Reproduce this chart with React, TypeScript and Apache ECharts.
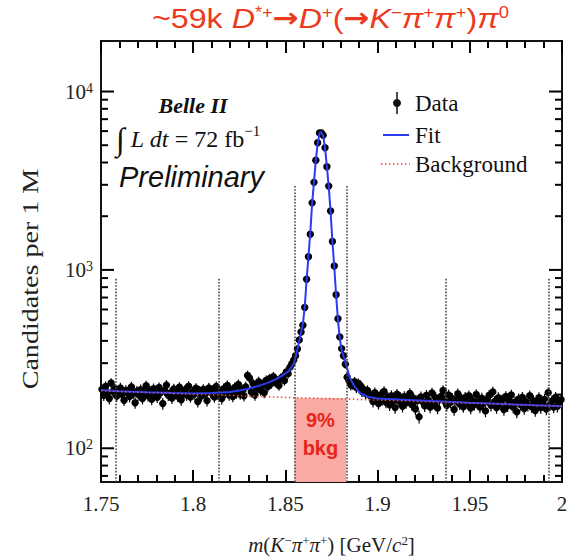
import React, { useEffect, useRef } from 'react';
import * as echarts from 'echarts';

// ---- axis ranges ----
const X_MIN = 1.75;
const X_MAX = 2.0;
const X_INTERVAL = 0.05;
const Y_MIN = 64.7;
const Y_MAX = 19200;

// ---- binning: 1 MeV bins from 1.750 to 2.000 GeV ----
const BIN_FIRST_CENTER = 1.7505;
const BIN_WIDTH = 0.001;

// ---- data: candidates per bin ----
const countsLeftSideband = [
  214, 198, 222, 205, 190, 232, 208, 215, 196, 203,
  218, 200, 186, 211, 207, 195, 221, 203, 180, 209,
  199, 213, 190, 205, 224, 197, 209, 188, 216, 202,
  193, 219, 206, 178, 211, 226, 198, 204, 191, 215,
  208, 196, 220, 187, 203, 212, 199, 223, 194, 206,
  201, 217, 183, 209, 197, 214, 203, 185, 218, 205,
  211, 194, 222, 200, 208, 190, 216, 206, 225, 199,
  210, 195, 219, 204, 228, 201, 213, 197, 221, 256,
  248, 207, 230, 199, 218, 236, 212, 227, 205, 240,
  222, 246, 231, 252, 235, 238, 225, 246, 252, 240,
];
const countsPeak = [
  268, 262, 285, 298, 312, 330, 360, 405, 449, 489,
  615, 887, 1185, 1585, 2376, 3097, 4120, 5160, 5860, 5860,
  5680, 4843, 3785, 2950, 2138, 1442, 1052, 726, 532, 421,
  362, 330, 296, 250, 238, 226, 228, 236, 219, 231,
  226, 208, 214, 203, 211, 199,
];
const countsRightSideband = [
  196, 183, 205, 190, 178, 199, 187, 208, 181, 193,
  175, 197, 186, 169, 201, 184, 192, 172, 195, 180,
  188, 203, 176, 191, 166, 185, 150, 194, 182, 173,
  198, 186, 170, 204, 179, 192, 168, 187, 196, 211,
  183, 174, 199, 181, 190, 165, 186, 202, 177, 189,
  171, 193, 180, 197, 168, 185, 176, 200, 182, 170,
  191, 179, 162, 188, 198, 174, 207, 183, 169, 192,
  178, 186, 165, 195, 173, 184, 199, 170, 181, 160,
  189, 176, 193, 167, 182, 174, 197, 171, 185, 163,
  180, 192, 169, 178, 188, 166, 205, 175, 184, 170,
  193, 172, 181, 187,
];

// ---- fit curve ----
const fitX = [
  1.75, 1.76, 1.775, 1.79, 1.8, 1.81, 1.82, 1.825, 1.83, 1.835, 1.84, 1.845, 1.849, 1.852,
  1.8545, 1.8555, 1.8565, 1.8575, 1.8585, 1.8595, 1.8605, 1.8615, 1.8625, 1.8635, 1.8645,
  1.8655, 1.8665, 1.8675, 1.8685, 1.869, 1.8695, 1.8705, 1.8715, 1.8725, 1.8735, 1.8745,
  1.8755, 1.8765, 1.8775, 1.8785, 1.8795, 1.8805, 1.8815, 1.8825, 1.8835, 1.885, 1.887,
  1.8905, 1.895, 1.9, 1.92, 1.95, 1.975, 2.0,
];
const fitY = [
  212, 209, 206, 204, 203, 204, 207, 211, 216, 223, 232, 244, 258, 272,
  298, 325, 358, 400, 445, 500, 620, 880, 1190, 1620, 2360,
  3120, 4130, 5120, 5830, 5930, 5880, 5650, 4820, 3800, 2930, 2120,
  1440, 1040, 720, 525, 412, 355, 328, 305, 280, 248, 226,
  204, 194, 190, 186, 180, 176, 172,
];

// ---- background component ----
const bkgX = [1.75, 1.855, 1.882, 2.0];
const bkgY = [210, 192, 189, 172];

// ---- signal window / sideband boundaries ----
const windowLinesX = [1.758, 1.814, 1.855, 1.883, 1.937, 1.993];
const windowLinesTop = [900, 900, 3000, 3000, 900, 900];
const signalWindow = [1.855, 1.883];
const signalWindowBkgLevel = 191;

// ---- y-axis ticks ----
const yMajorTicks = [100, 1000, 10000];
const yMinorTicks = [70, 80, 90, 200, 300, 400, 500, 600, 700, 800, 900,
  2000, 3000, 4000, 5000, 6000, 7000, 8000, 9000];

const SERIF = '"Liberation Serif", "Times New Roman", serif';
const SANS = '"Liberation Sans", Arial, Helvetica, sans-serif';
const TITLE_RED = '#ec3a1f';

export default function App() {
  const ref = useRef<HTMLDivElement>(null);

  useEffect(() => {
    if (!ref.current) return;
    const chart = echarts.init(ref.current, undefined, { renderer: 'svg' });

    const counts = [...countsLeftSideband, ...countsPeak, ...countsRightSideband];
    const dataPts = counts.map((c, i) => [BIN_FIRST_CENTER + i * BIN_WIDTH, c]);
    const fitPts = fitX.map((x, i) => [x, fitY[i]]);
    const bkgPts = bkgX.map((x, i) => [x, bkgY[i]]);
    const yTickData = [
      ...yMajorTicks.map((v) => [X_MAX, v, 1]),
      ...yMinorTicks.map((v) => [X_MAX, v, 0]),
    ];

    const xAxisCommon = {
      type: 'value',
      min: X_MIN,
      max: X_MAX,
      interval: X_INTERVAL,
      axisLine: { show: false },
      splitLine: { show: false },
      axisTick: { show: true, inside: true, length: 12, lineStyle: { color: '#000', width: 2 } },
      minorTick: { show: true, splitNumber: 5, length: 7, lineStyle: { color: '#000', width: 2 } },
      minorSplitLine: { show: false },
    };

    const option: any = {
      animation: false,
      grid: {
        left: 101,
        right: 15,
        top: 41,
        bottom: 75,
        show: true,
        borderColor: '#111',
        borderWidth: 2,
      },
      xAxis: [
        {
          ...xAxisCommon,
          position: 'bottom',
          axisLabel: {
            show: true,
            margin: 11,
            fontFamily: SERIF,
            fontSize: 21,
            color: '#222',
          },
          name: '{i|m}({i|K}{s|−}{i|π}{s|+}{i|π}{s|+}) [GeV/{i|c}{s|2}]',
          nameLocation: 'middle',
          nameGap: 52,
          nameTextStyle: {
            fontFamily: SERIF,
            fontSize: 21,
            color: '#222',
            rich: {
              i: { fontFamily: SERIF, fontSize: 21, fontStyle: 'italic', color: '#222' },
              s: { fontFamily: SERIF, fontSize: 13, color: '#222', verticalAlign: 'top' },
            },
          },
        },
        {
          ...xAxisCommon,
          position: 'top',
          axisLabel: { show: false },
        },
      ],
      yAxis: {
        type: 'log',
        logBase: 10,
        min: Y_MIN,
        max: Y_MAX,
        axisLine: { show: false },
        axisTick: { show: false },
        minorTick: { show: false },
        splitLine: { show: false },
        axisLabel: {
          show: true,
          showMinLabel: false,
          showMaxLabel: false,
          margin: 8,
          fontFamily: SERIF,
          fontSize: 21,
          color: '#222',
          formatter: (v: number) => {
            const e = Math.log10(v);
            if (Math.abs(e - Math.round(e)) > 1e-6) return '';
            return `{b|10}{s|${Math.round(e)}}`;
          },
          rich: {
            b: { fontFamily: SERIF, fontSize: 21, color: '#222' },
            s: { fontFamily: SERIF, fontSize: 14, color: '#222', verticalAlign: 'top' },
          },
        },
      },
      graphic: [
        {
          type: 'text',
          x: 152,
          y: 18,
          scaleX: 1.15,
          style: {
            text:
              '{n|~59k }{i|D}{s|*+}{a|→}{i|D}{s|+}{n|(}{a|→}{i|K}{s|−}{i|π}{s|+}{i|π}{s|+}{n|)}{i|π}{s|0}',
            font: `28px ${SANS}`,
            fill: TITLE_RED,
            align: 'left',
            verticalAlign: 'middle',
            rich: {
              n: { fill: TITLE_RED, fontFamily: SANS, fontSize: 28 },
              i: { fill: TITLE_RED, fontFamily: SANS, fontSize: 28, fontStyle: 'italic' },
              a: { fill: TITLE_RED, fontFamily: 'DejaVu Sans', fontSize: 27, fontWeight: 'bold' },
              s: { fill: TITLE_RED, fontFamily: SANS, fontSize: 16, verticalAlign: 'top' },
            },
          },
        },
        {
          type: 'text',
          x: 30,
          y: 279,
          rotation: Math.PI / 2,
          scaleX: 1.17,
          style: {
            text: 'Candidates per 1 M',
            font: `24px ${SERIF}`,
            fill: '#222',
            align: 'center',
            verticalAlign: 'middle',
          },
        },
        {
          type: 'text',
          x: 193,
          y: 105,
          style: {
            text: 'Belle II',
            font: `italic bold 22px ${SERIF}`,
            fill: '#111',
            align: 'center',
            verticalAlign: 'middle',
          },
        },
        {
          type: 'text',
          x: 116,
          y: 139,
          style: {
            text: '{int|∫} {i|L dt} = 72 fb{s|−1}',
            font: `24px ${SERIF}`,
            fill: '#111',
            align: 'left',
            verticalAlign: 'middle',
            rich: {
              int: { fontFamily: SERIF, fontSize: 32, fill: '#111' },
              i: { fontFamily: SERIF, fontSize: 24, fontStyle: 'italic', fill: '#111' },
              s: { fontFamily: SERIF, fontSize: 15, fill: '#111', verticalAlign: 'top' },
            },
          },
        },
        {
          type: 'text',
          x: 119,
          y: 177,
          style: {
            text: 'Preliminary',
            font: `italic 29px ${SANS}`,
            fill: '#111',
            align: 'left',
            verticalAlign: 'middle',
          },
        },
        {
          type: 'line',
          shape: { x1: 397, y1: 92, x2: 397, y2: 114 },
          style: { stroke: '#111', lineWidth: 1.5 },
        },
        { type: 'circle', shape: { cx: 397, cy: 103, r: 4 }, style: { fill: '#111' } },
        {
          type: 'text',
          x: 415,
          y: 103,
          style: { text: 'Data', font: `23px ${SERIF}`, fill: '#111', align: 'left', verticalAlign: 'middle' },
        },
        {
          type: 'line',
          shape: { x1: 383, y1: 135, x2: 409, y2: 135 },
          style: { stroke: '#2a3cf2', lineWidth: 2 },
        },
        {
          type: 'text',
          x: 415,
          y: 135,
          style: { text: 'Fit', font: `23px ${SERIF}`, fill: '#111', align: 'left', verticalAlign: 'middle' },
        },
        {
          type: 'line',
          shape: { x1: 381, y1: 164, x2: 410, y2: 164 },
          style: { stroke: '#ff3b30', lineWidth: 1.5, lineDash: [1.5, 2.5] },
        },
        {
          type: 'text',
          x: 415,
          y: 164,
          style: { text: 'Background', font: `23px ${SERIF}`, fill: '#111', align: 'left', verticalAlign: 'middle' },
        },
      ],
      series: [
        {
          name: 'Window',
          type: 'line',
          data: [],
          silent: true,
          markArea: {
            silent: true,
            itemStyle: { color: '#f9aaa3' },
            label: {
              show: true,
              position: 'inside',
              formatter: '9%\nbkg',
              color: '#e8231a',
              fontFamily: SANS,
              fontSize: 20,
              fontWeight: 'bold',
              lineHeight: 28,
              offset: [0, -6],
            },
            data: [
              [
                { coord: [signalWindow[0], Y_MIN] },
                { coord: [signalWindow[1], signalWindowBkgLevel] },
              ],
            ],
          },
          markLine: {
            silent: true,
            symbol: ['none', 'none'],
            label: { show: false },
            lineStyle: { type: 'dotted', color: '#444', width: 1.6 },
            data: windowLinesX.map((x, i) => [
              { coord: [x, Y_MIN] },
              { coord: [x, windowLinesTop[i]] },
            ]),
          },
        },
        {
          name: 'Data',
          type: 'custom',
          data: dataPts,
          encode: { x: 0, y: 1 },
          renderItem: (_params: any, api: any) => {
            const x = api.value(0);
            const y = api.value(1);
            const e = Math.sqrt(y);
            const c = api.coord([x, y]);
            const t = api.coord([x, y + e]);
            const b = api.coord([x, y - e]);
            return {
              type: 'group',
              children: [
                {
                  type: 'line',
                  shape: { x1: c[0], y1: t[1], x2: c[0], y2: b[1] },
                  style: { stroke: '#000', lineWidth: 1.2 },
                },
                {
                  type: 'circle',
                  shape: { cx: c[0], cy: c[1], r: 3.7 },
                  style: { fill: '#000' },
                },
              ],
            };
          },
        },
        {
          name: 'Fit',
          type: 'line',
          data: fitPts,
          symbol: 'none',
          smooth: false,
          lineStyle: { color: '#2a3cf2', width: 2 },
        },
        {
          name: 'Background',
          type: 'line',
          data: bkgPts,
          symbol: 'none',
          lineStyle: { color: '#ff3b30', width: 1.5, type: [1.5, 2.5] },
        },
        {
          name: 'yTicks',
          type: 'custom',
          data: yTickData,
          encode: { x: 0, y: 1 },
          renderItem: (_params: any, api: any) => {
            const v = api.value(1);
            const len = api.value(2) === 1 ? 13 : 7;
            const l = api.coord([X_MIN, v]);
            const r = api.coord([X_MAX, v]);
            return {
              type: 'group',
              children: [
                {
                  type: 'rect',
                  shape: { x: l[0], y: l[1] - 1, width: len, height: 2 },
                  style: { fill: '#000' },
                },
                {
                  type: 'rect',
                  shape: { x: r[0] - len, y: r[1] - 1, width: len, height: 2 },
                  style: { fill: '#000' },
                },
              ],
            };
          },
        },
      ],
    };

    chart.setOption(option);
    return () => chart.dispose();
  }, []);

  return (
    <div
      ref={ref}
      style={{ position: 'fixed', left: 0, top: 0, width: 577, height: 560, background: '#fff' }}
    />
  );
}
